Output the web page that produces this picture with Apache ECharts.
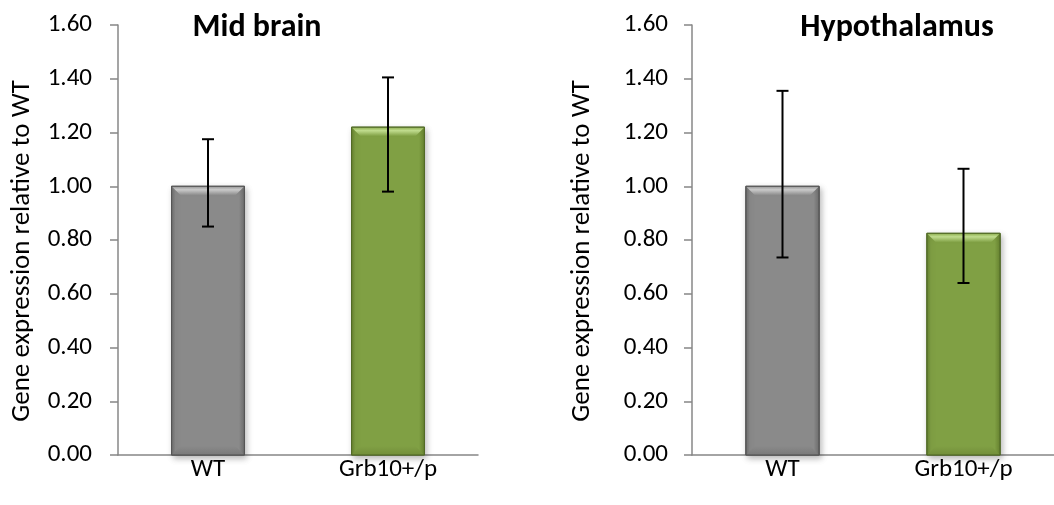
<!DOCTYPE html>
<html>
<head>
<meta charset="utf-8">
<script src="https://cdn.jsdelivr.net/npm/echarts@6/dist/echarts.min.js"></script>
<style>
  html, body { margin: 0; padding: 0; background: #fff; }
  #chart { width: 1054px; height: 505px; }
</style>
</head>
<body>
<div id="chart"></div>
<script>
// Relative gene expression (mean with lower / upper error limits)
const categories = ['WT', 'Grb10+/p'];
const yTicks = [0, 0.2, 0.4, 0.6, 0.8, 1.0, 1.2, 1.4, 1.6];

const midBrainMean = [1.00, 1.22];
const midBrainLow  = [0.85, 0.98];
const midBrainHigh = [1.175, 1.405];

const hypoMean = [1.00, 0.825];
const hypoLow  = [0.735, 0.64];
const hypoHigh = [1.355, 1.065];

const FONT = 'Carlito, Lato, "Liberation Sans", sans-serif';
const LABEL_SIZE = 25;
const NAME_SIZE = 27;

// Bevelled bar palettes per category
const palettes = [
  { base: '#8a8a8a', edge: '#6c6c6c', light: '#cacaca', mid: '#9c9c9c', dark: '#7a7a7a', border: '#555555' },
  { base: '#80a044', edge: '#66822f', light: '#c0dc8e', mid: '#93b356', dark: '#738f3b', border: '#526b27' }
];

function bevelBar(params, api) {
  const idx = api.value(0);
  const val = api.value(1);
  const top = api.coord([idx, val]);
  const bottom = api.coord([idx, 0]);
  const w = api.size([1, 0])[0] * 0.405;
  const x0 = top[0] - w / 2, x1 = top[0] + w / 2;
  const y0 = top[1], y1 = bottom[1];
  const b = 9;
  const p = palettes[idx];
  const hGrad = new echarts.graphic.LinearGradient(0, 0, 1, 0, [
    { offset: 0, color: p.edge },
    { offset: 0.06, color: p.base },
    { offset: 0.92, color: p.base },
    { offset: 1, color: p.edge }
  ]);
  return {
    type: 'group',
    children: [
      {
        type: 'rect',
        shape: { x: x0, y: y0, width: w, height: y1 - y0 },
        style: { fill: hGrad, stroke: p.border, lineWidth: 1,
                 shadowBlur: 6, shadowOffsetX: 2, shadowOffsetY: 3, shadowColor: 'rgba(0,0,0,0.28)' }
      },
      {
        type: 'polygon',
        shape: { points: [[x0 + 0.5, y0 + 0.5], [x1 - 0.5, y0 + 0.5], [x1 - b, y0 + b], [x0 + b, y0 + b]] },
        style: { fill: new echarts.graphic.LinearGradient(0, 0, 0, 1, [
          { offset: 0, color: p.mid }, { offset: 0.35, color: p.light }, { offset: 1, color: p.base }
        ]) }
      },
      {
        type: 'polygon',
        shape: { points: [[x0 + 0.5, y1 - 0.5], [x1 - 0.5, y1 - 0.5], [x1 - b, y1 - b], [x0 + b, y1 - b]] },
        style: { fill: new echarts.graphic.LinearGradient(0, 0, 0, 1, [
          { offset: 0, color: p.base }, { offset: 1, color: p.dark }
        ]) }
      },
      {
        type: 'rect',
        shape: { x: x0, y: y0, width: w, height: y1 - y0 },
        style: { fill: 'none', stroke: p.border, lineWidth: 1 }
      }
    ]
  };
}

function errorBar(params, api) {
  const idx = api.value(0);
  const lo = api.coord([idx, api.value(1)]);
  const hi = api.coord([idx, api.value(2)]);
  const cap = 6;
  const st = { stroke: '#000', lineWidth: 2 };
  return {
    type: 'group',
    children: [
      { type: 'line', shape: { x1: lo[0], y1: lo[1], x2: hi[0], y2: hi[1] }, style: st },
      { type: 'line', shape: { x1: lo[0] - cap, y1: lo[1], x2: lo[0] + cap, y2: lo[1] }, style: st },
      { type: 'line', shape: { x1: hi[0] - cap, y1: hi[1], x2: hi[0] + cap, y2: hi[1] }, style: st }
    ]
  };
}

const axisGray = '#878787';

function makeX(gridIndex) {
  return {
    type: 'category', gridIndex, data: categories,
    axisLine: { lineStyle: { color: axisGray, width: 1.5 } },
    axisTick: { length: 8, lineStyle: { color: axisGray, width: 1.5 } },
    axisLabel: { color: '#000', fontSize: LABEL_SIZE, fontFamily: FONT, margin: 2 }
  };
}

function makeY(gridIndex, gap, labelMargin) {
  return {
    type: 'value', gridIndex, min: 0, max: yTicks[yTicks.length - 1], interval: 0.2,
    name: 'Gene expression relative to WT', nameLocation: 'middle', nameGap: gap,
    nameTextStyle: { color: '#000', fontSize: NAME_SIZE, fontFamily: FONT, padding: [0, 22, 0, 0] },
    axisLine: { show: true, lineStyle: { color: axisGray, width: 1.5 } },
    axisTick: { show: true, length: 8, lineStyle: { color: axisGray, width: 1.5 } },
    splitLine: { show: false },
    axisLabel: { color: '#000', fontSize: LABEL_SIZE, fontFamily: FONT, margin: labelMargin,
                 formatter: v => v.toFixed(2) }
  };
}

const chart = echarts.init(document.getElementById('chart'), null, { renderer: 'canvas' });
chart.setOption({
  backgroundColor: '#fff',
  animation: false,
  title: [
    { text: 'Mid brain', left: 252, top: 7, textAlign: 'center',
      textStyle: { fontSize: 32, fontWeight: 'bold', color: '#000', fontFamily: FONT } },
    { text: 'Hypothalamus', left: 892, top: 7, textAlign: 'center',
      textStyle: { fontSize: 32, fontWeight: 'bold', color: '#000', fontFamily: FONT } }
  ],
  grid: [
    { left: 118, top: 25, width: 360, height: 430 },
    { left: 692, top: 25, width: 372, height: 430 }
  ],
  xAxis: [makeX(0), makeX(1)],
  yAxis: [makeY(0, 82, 26), makeY(1, 96, 24)],
  series: [
    { type: 'custom', xAxisIndex: 0, yAxisIndex: 0, renderItem: bevelBar,
      data: categories.map((c, i) => [i, midBrainMean[i]]) },
    { type: 'custom', xAxisIndex: 0, yAxisIndex: 0, renderItem: errorBar, z: 3,
      data: categories.map((c, i) => [i, midBrainLow[i], midBrainHigh[i]]) },
    { type: 'custom', xAxisIndex: 1, yAxisIndex: 1, renderItem: bevelBar,
      data: categories.map((c, i) => [i, hypoMean[i]]) },
    { type: 'custom', xAxisIndex: 1, yAxisIndex: 1, renderItem: errorBar, z: 3,
      data: categories.map((c, i) => [i, hypoLow[i], hypoHigh[i]]) }
  ]
});
</script>
</body>
</html>
